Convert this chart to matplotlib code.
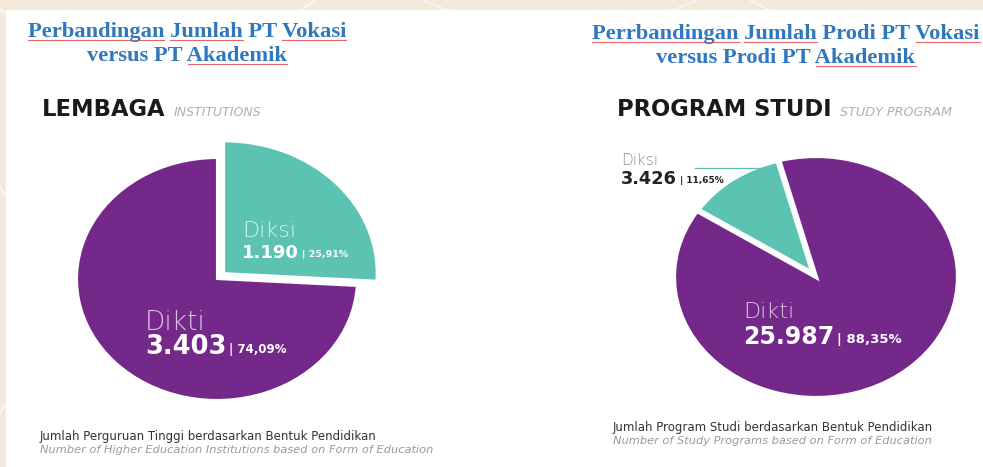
import matplotlib
matplotlib.use("Agg")
import matplotlib.pyplot as plt
from matplotlib.patches import Rectangle, Circle

W, H = 983, 467

# data
labels = ["Diksi", "Dikti"]
lembaga = [1190, 3403]
lembaga_pct = ["25,91%", "74,09%"]
prodi = [3426, 25987]
prodi_pct = ["11,65%", "88,35%"]

purple = "#74298a"
teal = "#5cc3b3"
blue_title = "#2f78bd"

fig = plt.figure(figsize=(W / 100, H / 100), dpi=100)
fig.patch.set_facecolor("#f3eadc")


def fx(x):
    return x / W


def fy(y):
    return 1 - y / H


# background arcs and white panel
bg = fig.add_axes([0, 0, 1, 1])
bg.set_xlim(0, W)
bg.set_ylim(H, 0)
bg.axis("off")
for cx, cy, r in [(150, -250, 300), (560, -300, 330), (900, -260, 300), (-200, 300, 230)]:
    bg.add_patch(Circle((cx, cy), r, fill=False, ec="white", lw=1.2, alpha=0.7))
bg.add_patch(Rectangle((6, 10), W, H, fc="white", ec="none"))

renderer = fig.canvas.get_renderer()


def text_w(s, **kw):
    t = fig.text(0, 0, s, **kw)
    w = t.get_window_extent(renderer).width
    t.remove()
    return w


def title_line(s, cx, y, underline_words):
    kw = dict(family="Liberation Serif", weight="bold", size=16.2, color=blue_title)
    total = text_w(s, **kw)
    x0 = cx - total / 2
    fig.text(fx(x0), fy(y), s, va="baseline", ha="left", **kw)
    for w in underline_words:
        i = s.index(w)
        a = x0 + text_w(s[:i], **kw) if i else x0
        b = x0 + text_w(s[:i + len(w)], **kw)
        bg.plot([a, b], [y + 3, y + 3], color="#e04040", lw=0.8, alpha=0.8)


title_line("Perbandingan Jumlah PT Vokasi", 187, 37, ["Perbandingan", "Jumlah", "Vokasi"])
title_line("versus PT Akademik", 187, 61, ["Akademik"])
title_line("Perrbandingan Jumlah Prodi PT Vokasi", 786, 39, ["Perrbandingan", "Jumlah", "Vokasi"])
title_line("versus Prodi PT Akademik", 786, 63, ["Akademik"])


def header(big, small, x, y, small_size):
    kw = dict(family="DejaVu Sans", weight="bold", size=16.3, color="#1a1a1a")
    fig.text(fx(x), fy(y), big, va="baseline", **kw)
    w = text_w(big, **kw)
    fig.text(fx(x + w + 8), fy(y), small, va="baseline", family="DejaVu Sans",
             style="italic", size=small_size, color="#b0b0b0")


header("LEMBAGA", "INSTITUTIONS", 42, 116, 9)
header("PROGRAM STUDI", "STUDY PROGRAM", 617, 116, 9.2)


def pie_axes(cx, cy, rx, ry):
    m = 1.2
    ax = fig.add_axes([fx(cx - rx * m), fy(cy + ry * m), 2 * rx * m / W, 2 * ry * m / H])
    return ax


def finish(ax):
    ax.set_aspect("auto")
    ax.set_xlim(-1.2, 1.2)
    ax.set_ylim(-1.2, 1.2)
    ax.axis("off")


ax1 = pie_axes(217, 279, 140, 121)
w1, _ = ax1.pie(lembaga, colors=[teal, purple], startangle=90, counterclock=False,
                explode=[0.07, 0], wedgeprops=dict(ec="white", lw=1.5))
w1[0].set_radius(1.09)
finish(ax1)

ax2 = pie_axes(816, 277, 142, 121)
w2, _ = ax2.pie(prodi, colors=[teal, purple], startangle=105, counterclock=True,
                explode=[0.04, 0], wedgeprops=dict(ec="white", lw=3))
w2[0].set_radius(0.96)
finish(ax2)

top = fig.add_axes([0, 0, 1, 1])
top.set_xlim(0, W)
top.set_ylim(H, 0)
top.axis("off")
top.plot([695, 776], [168, 168], color=teal, lw=0.9)


def value_label(name, val, pct, x, y_name, y_val, name_col, val_col, name_size, val_size, pct_size):
    fig.text(fx(x), fy(y_name), name, va="baseline", family="DejaVu Sans",
             weight="light", size=name_size, color=name_col)
    s = f"{val:,}".replace(",", ".")
    kw = dict(family="DejaVu Sans", weight="bold", size=val_size, color=val_col)
    fig.text(fx(x), fy(y_val), s, va="baseline", **kw)
    w = text_w(s, **kw)
    fig.text(fx(x + w + 3), fy(y_val - 1), "| " + pct, va="baseline",
             family="DejaVu Sans", weight="bold", size=pct_size, color=val_col)


value_label(labels[0], lembaga[0], lembaga_pct[0], 242, 237, 258, "#d9f2ec", "white", 16, 13, 6.8)
value_label(labels[1], lembaga[1], lembaga_pct[1], 145, 330, 354, "#dcc3e6", "white", 19, 18.5, 8.5)
value_label(labels[1], prodi[1], prodi_pct[1], 743, 318, 344, "#dcc3e6", "white", 16, 17, 9.5)
value_label(labels[0], prodi[0], prodi_pct[0], 621, 165, 184, "#8a8a8a", "#222222", 11, 12.8, 6.5)


def footer(l1, l2, x, y):
    fig.text(fx(x), fy(y), l1, va="baseline", family="DejaVu Sans", size=8.5, color="#333333")
    fig.text(fx(x), fy(y + 13), l2, va="baseline", family="DejaVu Sans", style="italic",
             size=8.2, color="#999999")


footer("Jumlah Perguruan Tinggi berdasarkan Bentuk Pendidikan",
       "Number of Higher Education Institutions based on Form of Education", 40, 440)
footer("Jumlah Program Studi berdasarkan Bentuk Pendidikan",
       "Number of Study Programs based on Form of Education", 613, 431)

fig.savefig("out.png", dpi=100, facecolor=fig.get_facecolor())
